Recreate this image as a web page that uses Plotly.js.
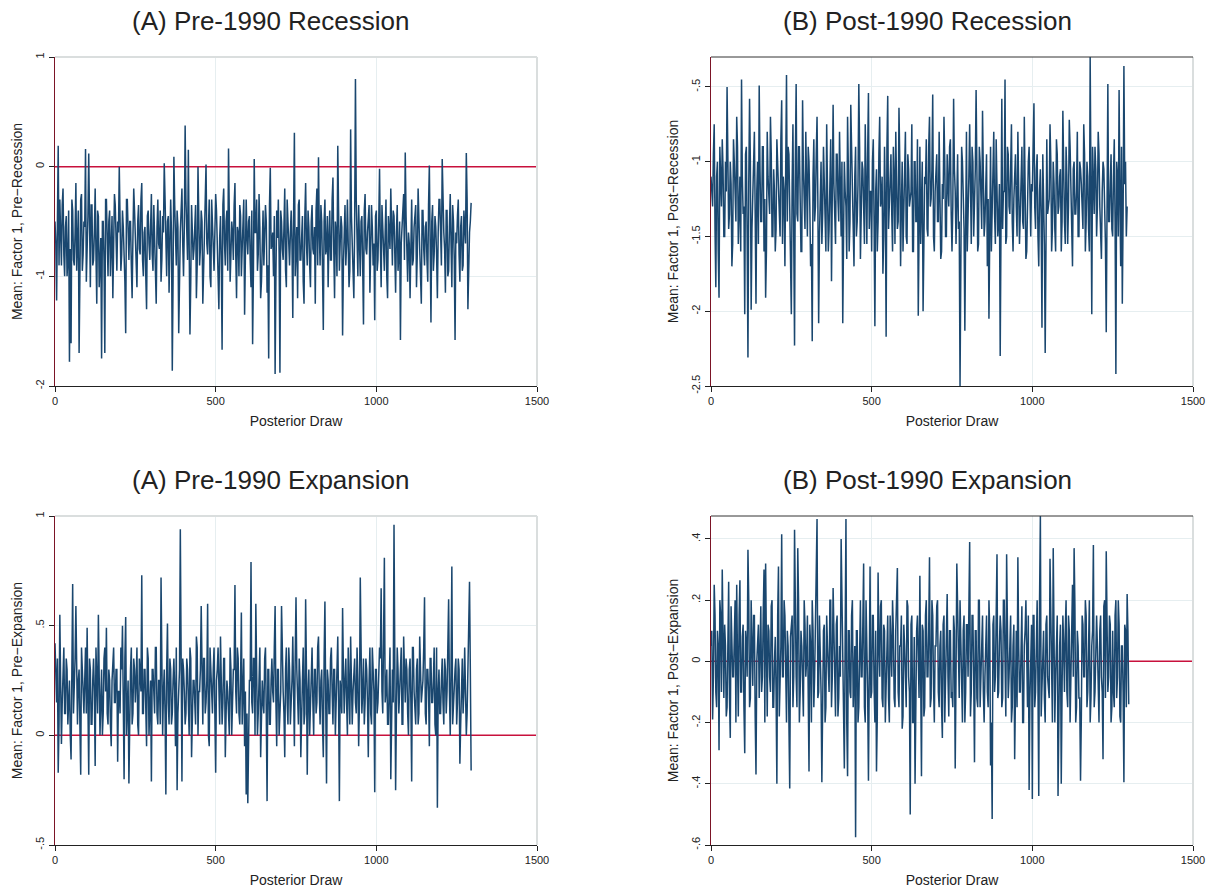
<!DOCTYPE html>
<html>
<head>
<meta charset="utf-8">
<script src="https://cdn.plot.ly/plotly-3.0.1.min.js"></script>
<style>
  html, body { margin: 0; padding: 0; background: #ffffff; }
  #chart { width: 1215px; height: 890px; }
</style>
</head>
<body>
<div id="chart"></div>
<script>
// Posterior draws.
// "...Main" arrays hold draws 0, 5, 10, ...; "...Mid" arrays hold the draws in between (2.5, 7.5, ...).
const drawStep = 2.5;

const preRecessionMain = [
  -0.5, -1.22, 0.19, -0.3, -0.9, -0.2, -1.0, -0.45, -0.85, -1.78,
  -1.61, -0.4, -0.9, -0.15, -0.7, -1.70, -0.3, -0.95, -0.5, 0.16,
  -0.8, 0.12, -1.1, -0.35, -0.85, -0.2, -1.25, -0.45, -0.9, -1.75,
  -0.5, -1.70, -0.3, -1.0, -0.4, -0.75, -1.2, -0.25, -0.9, -0.5,
  0.0, -0.95, -0.4, -0.75, -1.52, -0.3, -0.85, -0.5, -1.2, -0.2,
  -0.7, -1.1, -0.35, -0.8, -0.15, -1.0, -0.55, -1.3, -0.4, -0.85,
  -0.25, -0.95, -0.6, -1.25, -0.3, -0.75, -1.05, -0.45, 0.03, -0.9,
  -0.5, -1.15, -0.3, -1.86, 0.09, -0.8, -0.4, -1.52, -0.6, -0.2,
  -1.0, 0.375, -0.7, 0.155, -1.53, -0.35, -0.85, -0.45, -1.2, 0.0,
  -0.9, -0.4, -1.25, -0.6, 0.02, -0.8, -0.3, -1.1, -0.5, -0.95,
  -0.25, -0.75, -1.3, -0.45, -1.67, -0.2, -0.9, -0.4, 0.165, -1.05,
  -0.5, -0.85, -0.15, -1.2, -0.6, -0.35, -1.0, -0.5, -1.35, -0.3,
  -0.8, -0.45, -1.1, -1.62, 0.07, -0.6, -0.95, -0.25, -1.2, -0.55,
  -0.9, -0.35, -1.15, -1.75, -0.01, -0.7, -1.0, -1.89, -0.4, -0.3,
  -1.88, -0.5, -0.85, -0.2, -1.1, -0.55, -0.9, -0.4, -1.38, 0.31,
  -0.7, -1.2, -0.3, -0.85, -0.45, -1.25, -0.15, -0.9, -0.55, -1.1,
  -0.35, -0.8, -1.25, -0.2, 0.085, -0.9, -0.5, -1.49, -0.3, -0.75,
  -1.1, -0.4, -0.85, -0.1, -1.2, -0.6, 0.19, -0.95, -0.45, -1.54,
  -0.5, -0.9, -0.3, -1.1, 0.34, -0.75, -1.2, 0.80, -0.6, -0.35,
  -1.0, -0.45, -1.44, -0.25, -0.8, -0.5, -1.15, -0.35, -0.9, -1.40,
  -0.4, -0.85, -0.02, -1.1, -0.55, -0.95, -0.3, -1.2, -0.6, -0.2,
  -0.9, -0.45, -1.15, -0.35, -0.8, -1.58, -0.5, -0.25, 0.13, -0.95,
  -0.6, -1.2, -0.3, -0.85, -0.45, -1.1, -0.2, -0.75, -1.25, -0.4,
  -0.9, -0.5, -1.05, 0.01, -1.42, -0.35, -0.8, -0.55, -1.2, -0.3,
  -0.85, 0.07, -0.6, -1.15, -0.4, -0.95, -0.25, -1.1, -0.5, -1.58,
  -0.7, -0.3, -1.05, -0.45, -0.9, -0.55, 0.125, -1.30, -0.6, -0.33
];
const preRecessionMid = [
  -0.7, -0.45, -0.9, -0.6, -0.35, -0.8, -0.55, -1.0, -0.4, -0.75,
  -0.3, -0.85, -0.6, -0.95, -0.4, -0.65, -0.25, -0.8, -0.55, -1.05,
  -0.45, -0.7, -0.35, -0.9, -0.6, -0.8, -0.4, -1.1, -0.65, -0.5,
  -0.85, -0.3, -0.75, -0.5, -1.0, -0.45, -0.7, -0.35, -0.95, -0.6,
  -0.4, -0.8, -0.55, -1.05, -0.3, -0.7, -0.5, -0.9, -0.65, -0.4,
  -0.95, -0.5, -0.75, -0.3, -0.85, -0.6, -1.0, -0.45, -0.7, -0.55,
  -0.8, -0.35, -0.95, -0.55, -0.7, -0.4, -0.85, -0.6, -0.3, -1.0,
  -0.45, -0.75, -0.6, -1.0, -0.35, -0.9, -0.55, -0.8, -0.4, -0.7,
  -0.55, -0.3, -0.85, -0.45, -1.05, -0.6, -0.75, -0.35, -0.9, -0.5,
  -0.75, -0.5, -0.95, -0.4, -0.7, -0.55, -1.0, -0.3, -0.8, -0.6,
  -0.4, -0.9, -0.65, -0.85, -0.35, -0.7, -0.5, -0.95, -0.45, -0.8,
  -0.6, -0.35, -0.8, -0.55, -1.0, -0.45, -0.75, -0.3, -0.9, -0.65,
  -0.5, -0.85, -0.4, -0.95, -0.6, -0.3, -0.8, -0.55, -1.05, -0.4,
  -0.7, -0.5, -0.9, -0.35, -0.75, -0.6, -0.45, -1.0, -0.65, -0.8,
  -0.4, -0.75, -0.55, -0.95, -0.3, -0.85, -0.6, -0.7, -0.45, -1.0,
  -0.55, -0.35, -0.85, -0.6, -1.05, -0.45, -0.7, -0.4, -0.9, -0.5,
  -0.75, -0.55, -0.4, -0.9, -0.6, -0.35, -0.95, -0.5, -0.8, -0.45,
  -0.65, -0.85, -0.3, -0.75, -0.5, -1.0, -0.4, -0.7, -0.55, -0.9,
  -0.35, -0.7, -0.6, -0.95, -0.45, -0.8, -0.55, -0.3, -1.0, -0.65,
  -0.5, -0.9, -0.4, -0.75, -0.6, -0.35, -0.85, -0.55, -0.7, -0.45,
  -0.95, -0.5, -0.7, -0.35, -0.8, -0.6, -1.0, -0.45, -0.75, -0.55,
  -0.4, -0.8, -0.6, -0.95, -0.5, -0.7, -0.3, -0.85, -0.45, -1.05,
  -0.7, -0.45, -0.9, -0.55, -0.35, -0.8, -0.6, -1.0, -0.4, -0.75,
  -0.55, -0.85, -0.35, -0.7, -0.5, -0.95, -0.45, -0.8, -0.6, -0.3,
  -0.9, -0.5, -0.75, -0.4, -1.0, -0.55, -0.7, -0.35, -0.85, -0.6,
  -0.45, -0.8, -0.55, -0.95, -0.4, -0.7, -0.3, -0.85, -0.5
];

const postRecessionMain = [
  -1.1, -1.3, -0.75, -1.84, -1.0, -1.91, -1.2, -0.85, -1.5, -1.0,
  -0.50, -1.45, -1.0, -1.7, -0.85, -1.3, -0.7, -1.55, -1.1, -0.45,
  -1.35, -2.02, -0.9, -2.31, -0.58, -1.99, -1.2, -0.8, -1.95, -1.0,
  -0.49, -1.4, -0.9, -1.6, -1.91, -0.8, -1.3, -0.7, -1.5, -1.05,
  -1.6, -0.85, -1.2, -1.5, -0.59, -1.1, -1.7, -0.42, -0.9, -1.3,
  -2.02, -0.75, -2.23, -0.48, -1.4, -0.9, -1.6, -0.59, -1.25, -0.8,
  -1.5, -1.0, -1.7, -2.20, -0.85, -1.3, -0.7, -2.08, -1.1, -1.55,
  -0.9, -1.35, -0.75, -1.6, -1.05, -1.8, -0.62, -1.4, -0.95, -1.25,
  -0.8, -1.5, -2.08, -1.0, -1.3, -0.7, -1.6, -0.62, -1.15, -1.7,
  -0.9, -1.4, -0.48, -1.65, -1.0, -1.3, -0.75, -1.55, -0.54, -1.2,
  -1.6, -0.85, -2.10, -1.05, -1.4, -0.7, -1.25, -1.75, -0.9, -2.17,
  -0.56, -1.3, -0.95, -1.6, -1.1, -0.8, -1.45, -0.64, -1.7, -1.0,
  -1.35, -0.8, -1.55, -1.05, -1.25, -0.75, -1.6, -1.0, -1.4, -2.03,
  -0.9, -1.3, -2.0, -1.1, -0.85, -1.5, -0.7, -1.25, -0.55, -1.6,
  -1.0, -1.4, -0.8, -1.65, -1.15, -0.7, -1.5, -0.95, -1.3, -0.85,
  -1.6, -0.58, -1.2, -1.0, -1.45, -2.5, -0.9, -1.3, -2.13, -0.8,
  -1.4, -0.75, -1.55, -1.0, -1.25, -0.52, -1.6, -0.9, -1.35, -0.66,
  -1.5, -1.0, -1.7, -2.05, -0.9, -1.3, -0.8, -1.55, -1.1, -1.4,
  -2.30, -0.58, -1.2, -0.45, -1.5, -0.95, -1.35, -0.75, -1.6, -1.05,
  -1.3, -0.8, -1.55, -1.0, -1.4, -0.7, -1.65, -1.1, -0.9, -1.5,
  -1.2, -0.61, -1.45, -0.95, -1.7, -1.05, -2.11, -1.25, -2.28, -0.85,
  -1.3, -0.75, -1.6, -1.0, -1.45, -0.85, -1.35, -1.1, -1.6, -0.66,
  -1.4, -0.9, -1.55, -0.72, -1.25, -1.7, -1.0, -1.35, -0.8, -1.5,
  -1.05, -1.3, -0.75, -1.6, -1.0, -1.45, -0.30, -2.02, -1.2, -0.9,
  -1.5, -0.8, -1.3, -1.65, -1.0, -1.25, -2.14, -0.48, -1.4, -0.95,
  -1.5, -0.85, -2.42, -1.1, -0.52, -1.7, -1.95, -0.36, -1.0, -1.3
];
const postRecessionMid = [
  -1.25, -0.95, -1.45, -1.1, -1.6, -0.9, -1.3, -1.05, -1.5, -1.2,
  -0.85, -1.35, -1.15, -1.55, -1.0, -1.4, -0.9, -1.25, -1.6, -1.1,
  -1.3, -0.95, -1.5, -1.15, -1.0, -1.45, -0.85, -1.35, -1.2, -1.55,
  -1.05, -1.4, -0.9, -1.25, -1.6, -1.1, -1.35, -0.95, -1.5, -1.2,
  -1.45, -1.0, -1.3, -0.85, -1.55, -1.2, -1.05, -1.4, -0.95, -1.6,
  -1.15, -1.5, -1.0, -1.35, -0.9, -1.25, -1.6, -1.05, -1.45, -1.3,
  -0.9, -1.3, -1.55, -1.1, -1.4, -0.95, -1.25, -1.5, -1.0, -1.35,
  -1.2, -1.6, -1.05, -1.45, -0.85, -1.3, -1.15, -1.55, -0.95, -1.4,
  -1.35, -1.0, -1.5, -1.2, -1.65, -1.05, -1.4, -0.9, -1.3, -1.1,
  -1.5, -1.15, -0.9, -1.35, -1.05, -1.55, -1.25, -0.95, -1.45, -1.2,
  -1.0, -1.4, -1.2, -1.6, -0.95, -1.3, -1.1, -1.5, -1.25, -0.9,
  -1.45, -1.05, -1.35, -0.9, -1.55, -1.15, -1.4, -1.0, -1.3, -1.6,
  -1.1, -1.5, -0.95, -1.3, -1.2, -1.6, -1.0, -1.4, -0.85, -1.25,
  -1.55, -1.0, -1.35, -1.15, -1.45, -0.9, -1.3, -1.05, -1.5, -1.2,
  -0.95, -1.4, -1.1, -1.6, -1.25, -1.0, -1.5, -1.15, -0.9, -1.35,
  -1.3, -1.05, -1.55, -0.95, -1.4, -1.2, -1.0, -1.45, -1.15, -1.6,
  -1.1, -1.35, -0.9, -1.5, -1.05, -1.3, -1.55, -1.0, -1.45, -1.2,
  -1.4, -0.95, -1.25, -1.1, -1.6, -1.0, -1.35, -0.85, -1.5, -1.15,
  -1.0, -1.45, -1.2, -1.55, -0.9, -1.3, -1.05, -1.4, -1.25, -0.95,
  -1.5, -1.1, -1.35, -0.9, -1.45, -1.2, -1.6, -1.0, -1.3, -1.15,
  -0.9, -1.3, -1.05, -1.5, -1.2, -1.4, -0.95, -1.55, -1.1, -1.35,
  -1.25, -1.0, -1.45, -1.15, -1.6, -0.95, -1.3, -1.05, -1.4, -1.2,
  -1.55, -1.1, -1.3, -0.9, -1.45, -1.05, -1.35, -1.2, -1.5, -1.0,
  -1.15, -1.45, -0.95, -1.4, -1.1, -1.6, -1.25, -0.9, -1.35, -1.05,
  -1.3, -0.95, -1.5, -1.2, -1.05, -1.55, -1.0, -1.4, -1.15, -1.45,
  -1.1, -1.4, -1.0, -1.5, -1.25, -0.9, -1.35, -1.15, -1.5
];

const preExpansionMain = [
  0.42, 0.15, -0.17, 0.55, -0.04, 0.3, 0.1, 0.35, 0.05, 0.25,
  -0.11, 0.69, 0.2, 0.59, 0.05, 0.3, -0.18, 0.25, 0.1, 0.4,
  0.49, -0.18, 0.3, 0.05, 0.35, -0.14, 0.2, 0.55, 0.0, 0.3,
  0.1, 0.4, 0.49, 0.05, 0.25, -0.05, 0.35, 0.15, 0.3, -0.12,
  0.2, 0.4, 0.50, -0.20, 0.54, 0.1, -0.22, 0.3, 0.05, 0.35,
  0.15, 0.4, 0.0, 0.25, 0.73, 0.1, 0.3, -0.05, 0.35, 0.15,
  -0.21, 0.3, 0.1, 0.4, 0.05, 0.25, 0.72, 0.0, 0.3, -0.27,
  0.51, 0.05, 0.3, 0.1, 0.35, -0.05, -0.25, 0.2, 0.94, -0.21,
  0.3, 0.05, 0.35, 0.15, 0.4, -0.1, 0.25, 0.1, 0.45, 0.0,
  0.2, 0.59, 0.05, 0.35, 0.15, 0.60, -0.05, 0.3, 0.1, 0.4,
  -0.17, 0.3, 0.15, 0.45, 0.05, 0.35, -0.1, 0.25, 0.1, 0.4,
  0.0, 0.3, 0.685, 0.1, 0.35, 0.05, 0.56, 0.2, -0.05, -0.27,
  -0.31, 0.25, 0.79, 0.1, 0.35, 0.60, 0.0, 0.3, -0.1, 0.25,
  0.1, 0.4, -0.30, 0.3, 0.05, 0.35, 0.15, 0.59, -0.05, 0.3,
  0.1, 0.59, 0.2, -0.1, 0.4, 0.05, 0.3, 0.15, 0.45, -0.05,
  0.63, 0.1, 0.35, -0.1, 0.25, 0.05, 0.62, -0.18, 0.3, 0.15,
  0.4, 0.0, 0.3, 0.15, 0.45, 0.05, 0.3, -0.1, 0.61, -0.22,
  0.25, 0.1, 0.4, 0.05, 0.3, 0.15, 0.45, -0.30, 0.2, 0.58,
  0.1, 0.35, 0.0, 0.25, 0.45, 0.05, 0.3, 0.15, 0.4, -0.05,
  0.72, 0.1, 0.35, 0.15, 0.3, -0.1, 0.4, 0.05, 0.25, -0.26,
  0.3, 0.15, 0.4, 0.67, 0.1, 0.81, 0.2, 0.05, 0.35, -0.20,
  0.3, 0.96, -0.25, 0.4, 0.1, 0.35, 0.05, 0.45, 0.15, 0.3,
  0.0, 0.35, -0.21, 0.4, 0.1, 0.3, 0.05, 0.45, 0.15, 0.25,
  0.63, 0.05, 0.3, -0.05, 0.35, 0.15, 0.4, 0.0, -0.33, 0.3,
  0.1, 0.35, 0.05, 0.3, 0.2, 0.62, 0.0, 0.77, 0.15, 0.3,
  0.05, 0.35, -0.13, 0.25, 0.1, 0.4, 0.0, 0.3, 0.70, -0.16
];
const preExpansionMid = [
  0.2, 0.35, 0.05, 0.25, 0.15, 0.4, 0.1, 0.3, 0.2, 0.0,
  0.3, 0.1, 0.35, 0.15, 0.25, 0.05, 0.4, 0.2, 0.3, 0.1,
  0.15, 0.35, 0.05, 0.25, 0.2, 0.4, 0.1, 0.3, 0.15, 0.0,
  0.35, 0.2, 0.1, 0.3, 0.05, 0.25, 0.4, 0.15, 0.3, 0.2,
  0.1, 0.3, 0.2, 0.35, 0.0, 0.25, 0.15, 0.4, 0.1, 0.3,
  0.25, 0.05, 0.35, 0.2, 0.1, 0.3, 0.15, 0.4, 0.0, 0.25,
  0.3, 0.15, 0.4, 0.1, 0.25, 0.05, 0.35, 0.2, 0.1, 0.3,
  0.15, 0.35, 0.05, 0.25, 0.2, 0.4, 0.1, 0.3, 0.15, 0.35,
  0.2, 0.1, 0.3, 0.0, 0.35, 0.15, 0.25, 0.05, 0.4, 0.2,
  0.3, 0.15, 0.35, 0.1, 0.25, 0.0, 0.4, 0.2, 0.3, 0.1,
  0.25, 0.4, 0.05, 0.3, 0.15, 0.35, 0.1, 0.2, 0.0, 0.3,
  0.15, 0.3, 0.2, 0.4, 0.1, 0.25, 0.05, 0.35, 0.2, 0.1,
  0.05, 0.25, 0.15, 0.35, 0.0, 0.3, 0.1, 0.4, 0.2, 0.15,
  0.35, 0.1, 0.3, 0.05, 0.25, 0.2, 0.4, 0.15, 0.3, 0.0,
  0.2, 0.35, 0.1, 0.3, 0.15, 0.4, 0.05, 0.25, 0.2, 0.35,
  0.3, 0.05, 0.25, 0.15, 0.4, 0.1, 0.3, 0.2, 0.0, 0.35,
  0.15, 0.3, 0.1, 0.4, 0.2, 0.25, 0.05, 0.35, 0.15, 0.3,
  0.1, 0.35, 0.2, 0.3, 0.0, 0.4, 0.15, 0.25, 0.1, 0.3,
  0.25, 0.15, 0.4, 0.05, 0.3, 0.2, 0.35, 0.1, 0.25, 0.15,
  0.3, 0.2, 0.05, 0.35, 0.15, 0.25, 0.1, 0.4, 0.2, 0.3,
  0.1, 0.25, 0.35, 0.2, 0.45, 0.15, 0.3, 0.05, 0.4, 0.2,
  0.15, 0.35, 0.1, 0.3, 0.2, 0.4, 0.05, 0.25, 0.35, 0.1,
  0.3, 0.15, 0.4, 0.2, 0.05, 0.35, 0.1, 0.3, 0.2, 0.4,
  0.1, 0.3, 0.2, 0.35, 0.15, 0.25, 0.05, 0.4, 0.2, 0.1,
  0.25, 0.15, 0.35, 0.1, 0.4, 0.2, 0.3, 0.05, 0.25, 0.35,
  0.15, 0.3, 0.05, 0.35, 0.2, 0.25, 0.1, 0.4, 0.3
];

const postExpansionMain = [
  0.05, -0.19, 0.25, -0.1, 0.1, -0.29, 0.15, 0.30, -0.12, 0.05,
  -0.15, 0.26, -0.25, 0.1, -0.05, 0.2, 0.25, -0.18, 0.265, -0.1,
  0.12, -0.30, 0.05, 0.365, -0.15, 0.2, -0.08, 0.15, -0.37, 0.1,
  -0.12, 0.18, -0.05, 0.30, 0.32, -0.18, 0.1, -0.1, 0.2, -0.15,
  0.08, -0.40, 0.31, -0.1, 0.415, -0.05, 0.15, -0.2, 0.05, -0.415,
  0.12, -0.15, 0.43, -0.05, 0.37, -0.2, 0.1, -0.12, 0.2, -0.05,
  0.15, -0.36, 0.05, 0.2, -0.15, 0.1, 0.465, -0.1, 0.05, -0.395,
  0.1, -0.2, 0.15, -0.05, 0.2, -0.15, 0.24, -0.1, 0.12, -0.18,
  0.05, 0.40, -0.1, -0.35, 0.465, -0.375, 0.1, -0.12, 0.2, -0.05,
  -0.575, 0.1, -0.15, 0.2, -0.05, 0.32, -0.2, 0.05, -0.39, 0.31,
  -0.1, 0.15, -0.2, -0.36, 0.29, -0.05, 0.2, -0.15, 0.1, -0.1,
  0.15, -0.2, 0.05, 0.2, -0.12, 0.1, 0.305, -0.15, 0.05, -0.22,
  0.12, -0.1, 0.2, -0.05, -0.50, 0.15, -0.2, -0.40, 0.1, -0.1,
  0.28, -0.375, 0.1, -0.15, 0.2, -0.05, 0.34, -0.12, 0.15, -0.2,
  0.05, 0.2, -0.15, 0.1, -0.25, 0.15, -0.05, 0.22, -0.18, 0.1,
  -0.1, 0.15, -0.35, 0.32, -0.05, 0.2, -0.15, 0.1, -0.2, 0.12,
  -0.05, 0.39, -0.1, 0.15, -0.33, 0.1, -0.15, 0.2, -0.05, 0.15,
  -0.2, 0.1, -0.1, 0.2, -0.34, -0.515, 0.15, -0.05, 0.35, -0.1,
  0.15, -0.15, 0.2, -0.05, 0.35, -0.12, 0.1, -0.2, 0.05, -0.32,
  0.1, 0.34, -0.1, 0.15, -0.2, 0.05, 0.2, -0.15, -0.42, 0.1,
  -0.45, 0.15, -0.1, 0.2, -0.44, 0.475, -0.05, 0.1, -0.2, 0.15,
  -0.1, 0.335, -0.05, 0.37, -0.2, 0.1, -0.44, 0.05, -0.40, 0.15,
  -0.1, 0.2, -0.15, 0.1, -0.05, 0.25, 0.37, -0.2, 0.1, -0.12,
  -0.39, 0.15, -0.05, 0.2, -0.15, 0.1, -0.2, 0.05, 0.38, -0.1,
  0.15, -0.15, 0.1, -0.05, -0.32, 0.2, 0.36, -0.1, 0.15, -0.2,
  0.1, -0.15, 0.2, -0.05, 0.12, -0.2, 0.05, -0.395, 0.1, 0.22,
  -0.14
];
const postExpansionMid = [
  0.1, -0.05, 0.15, -0.15, 0.05, 0.2, -0.1, 0.0, 0.12, -0.18,
  0.05, -0.12, 0.18, -0.05, 0.1, -0.2, 0.0, 0.15, -0.1, 0.08,
  -0.15, 0.1, -0.05, 0.2, -0.12, 0.05, 0.15, -0.18, 0.0, 0.12,
  0.08, -0.1, 0.15, -0.2, 0.05, 0.12, -0.05, 0.18, -0.15, 0.0,
  -0.1, 0.15, -0.18, 0.05, -0.05, 0.2, -0.12, 0.1, -0.2, 0.08,
  0.15, -0.05, 0.1, -0.15, 0.2, -0.1, 0.05, -0.18, 0.12, 0.0,
  -0.08, 0.12, -0.2, 0.1, -0.05, 0.18, -0.12, 0.15, -0.1, 0.05,
  0.12, -0.15, 0.05, -0.1, 0.2, -0.05, 0.1, -0.18, 0.15, -0.12,
  -0.05, 0.18, -0.12, 0.08, -0.2, 0.1, -0.1, 0.15, -0.15, 0.05,
  0.1, -0.2, 0.15, -0.05, 0.12, -0.15, 0.2, -0.1, 0.05, -0.12,
  0.15, -0.08, 0.1, -0.18, 0.05, 0.18, -0.12, 0.12, -0.2, 0.0,
  -0.12, 0.15, -0.05, 0.1, -0.15, 0.2, -0.1, 0.05, 0.15, -0.18,
  0.05, -0.15, 0.18, -0.1, 0.12, -0.2, 0.08, -0.05, 0.15, -0.12,
  -0.1, 0.12, -0.18, 0.15, -0.05, 0.1, -0.15, 0.2, -0.08, 0.05,
  0.18, -0.1, 0.05, -0.15, 0.12, -0.2, 0.15, -0.05, 0.1, -0.12,
  -0.15, 0.1, -0.05, 0.18, -0.12, 0.05, -0.2, 0.15, -0.1, 0.12,
  0.12, -0.18, 0.15, -0.05, 0.1, -0.12, 0.2, -0.15, 0.05, -0.1,
  -0.05, 0.15, -0.15, 0.1, -0.2, 0.12, -0.1, 0.18, -0.12, 0.05,
  0.1, -0.12, 0.2, -0.18, 0.05, -0.05, 0.15, -0.15, 0.12, -0.1,
  -0.15, 0.05, -0.1, 0.18, -0.2, 0.1, -0.05, 0.15, -0.12, 0.12,
  0.15, -0.15, 0.1, -0.08, 0.2, -0.18, 0.05, -0.12, 0.12, -0.05,
  -0.12, 0.18, -0.2, 0.1, -0.05, 0.15, -0.15, 0.12, -0.1, 0.05,
  0.1, -0.1, 0.15, -0.2, 0.12, -0.05, 0.18, -0.15, 0.05, -0.12,
  -0.18, 0.12, -0.05, 0.15, -0.1, 0.2, -0.12, 0.1, -0.15, 0.08,
  0.05, -0.2, 0.15, -0.1, 0.18, -0.12, 0.1, -0.05, 0.12, -0.15,
  -0.1, 0.15, -0.12, 0.2, -0.18, 0.05, -0.1, 0.12, -0.15, 0.1
];

// Panel titles and axis labels
const panelTitles = ["(A) Pre-1990 Recession", "(B) Post-1990 Recession",
                     "(A) Pre-1990 Expansion", "(B) Post-1990 Expansion"];
const yTitles = ["Mean: Factor 1, Pre\u2212Recession", "Mean: Factor 1, Post\u2212Recession",
                 "Mean: Factor 1, Pre\u2212Expansion", "Mean: Factor 1, Post\u2212Expansion"];
const xTitle = "Posterior Draw";

// Tick values / labels
const xTickVals = [0, 500, 1000, 1500];
const xTickText = ["0", "500", "1000", "1500"];
const yTickVals = [
  [-2, -1, 0, 1],
  [-2.5, -2, -1.5, -1, -0.5],
  [-0.5, 0, 0.5, 1],
  [-0.6, -0.4, -0.2, 0, 0.2, 0.4]
];
const yTickText = [
  ["-2", "-1", "0", "1"],
  ["-2.5", "-2", "-1.5", "-1", "-.5"],
  ["-.5", "0", ".5", "1"],
  ["-.6", "-.4", "-.2", "0", ".2", ".4"]
];
const yRanges = [[-2, 1], [-2.5, -0.30], [-0.5, 1], [-0.6, 0.475]];
const refLineY = 0;

const mainSeries = [preRecessionMain, postRecessionMain, preExpansionMain, postExpansionMain];
const midSeries = [preRecessionMid, postRecessionMid, preExpansionMid, postExpansionMid];

// ---- layout geometry (pixels) ----
const W = 1215, H = 890;
const colX = [[55, 537], [711, 1193]];
const rowY = [[57, 386], [516, 845]];
const titleCX = [270, 927];
const titleCY = [21, 480];

const FONT = "Liberation Sans, Arial, Helvetica, sans-serif";
const traceColor = "#1a476f";
const zeroColor = "#c8103c";
const leftColor = "#7b1426";

const traces = [];
const layout = {
  width: W, height: H,
  margin: {l: 0, r: 0, t: 0, b: 0},
  paper_bgcolor: "#ffffff",
  plot_bgcolor: "#ffffff",
  showlegend: false,
  font: {family: FONT, color: "#222"},
  shapes: [],
  annotations: []
};

for (let p = 0; p < 4; p++) {
  const col = p % 2, row = Math.floor(p / 2);
  const ax = p === 0 ? "" : String(p + 1);
  // interleave draws in order
  const main = mainSeries[p], mid = midSeries[p];
  const vals = [];
  for (let i = 0; i < main.length; i++) {
    vals.push(main[i]);
    if (i < mid.length) vals.push(mid[i]);
  }
  const xs = vals.map((_, i) => i * drawStep);

  // zero reference line (drawn first, so it sits under the trace)
  if (yRanges[p][0] < refLineY && yRanges[p][1] > refLineY) {
    traces.push({
      type: "scatter", mode: "lines",
      x: [0, 1500], y: [refLineY, refLineY],
      xaxis: "x" + ax, yaxis: "y" + ax,
      line: {color: zeroColor, width: 1.5},
      hoverinfo: "skip"
    });
  }
  traces.push({
    type: "scatter", mode: "lines",
    x: xs, y: vals,
    xaxis: "x" + ax, yaxis: "y" + ax,
    line: {color: traceColor, width: 1.5},
    hoverinfo: "skip"
  });

  const xd = [colX[col][0] / W, colX[col][1] / W];
  const yd = [1 - rowY[row][1] / H, 1 - rowY[row][0] / H];
  layout["xaxis" + ax] = {
    domain: xd, range: [0, 1500], anchor: "y" + ax,
    tickvals: xTickVals, ticktext: xTickText,
    ticks: "outside", ticklen: 5, tickcolor: "#222", tickwidth: 1,
    tickfont: {size: 11, color: "#222", family: FONT},
    showgrid: true, gridcolor: "#e6eef0", gridwidth: 1,
    zeroline: false,
    showline: true, linecolor: "#222", linewidth: 1,
    title: {text: xTitle, font: {size: 14, color: "#222", family: FONT}, standoff: 9},
    automargin: false
  };
  layout["yaxis" + ax] = {
    domain: yd, range: yRanges[p], anchor: "x" + ax,
    tickvals: yTickVals[p], ticktext: yTickText[p],
    tickangle: -90,
    ticks: "outside", ticklen: 5, tickcolor: "#222", tickwidth: 1,
    tickfont: {size: 11, color: "#222", family: FONT},
    showgrid: true, gridcolor: "#e6eef0", gridwidth: 1,
    zeroline: false,
    showline: true, linecolor: leftColor, linewidth: 1.5,
    title: {text: yTitles[p], font: {size: 14, color: "#222", family: FONT}, standoff: 8},
    automargin: false
  };
  // right edge (light) and top edge
  layout.shapes.push({
    type: "line", xref: "x" + ax + " domain", yref: "y" + ax + " domain",
    x0: 1, x1: 1, y0: 0, y1: 1, layer: "above",
    line: {color: "#dadede", width: 2}
  });
  layout.shapes.push({
    type: "line", xref: "x" + ax + " domain", yref: "y" + ax + " domain",
    x0: 0, x1: 1, y0: 1, y1: 1, layer: "above",
    line: {color: col === 1 ? "#333333" : "#dadede", width: col === 1 ? 1 : 2}
  });
  layout.annotations.push({
    text: panelTitles[p], xref: "paper", yref: "paper",
    x: titleCX[col] / W, y: 1 - titleCY[row] / H,
    xanchor: "center", yanchor: "middle", showarrow: false,
    font: {size: 26, color: "#222", family: FONT}
  });
}

Plotly.newPlot("chart", traces, layout, {staticPlot: true, displayModeBar: false});
</script>
</body>
</html>
